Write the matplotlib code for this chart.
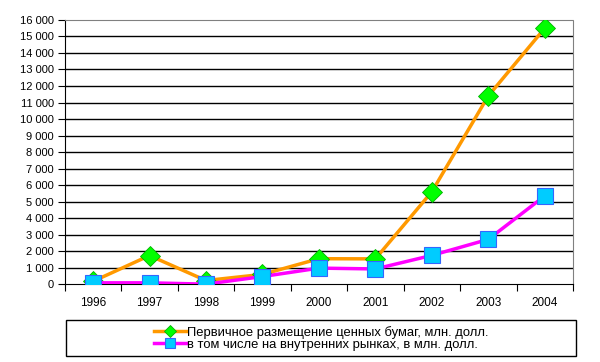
import numpy as np
import matplotlib
matplotlib.use("Agg")
import matplotlib.pyplot as plt
from matplotlib.ticker import FuncFormatter
from matplotlib.patches import Rectangle

plt.rcParams['font.family'] = ['Liberation Sans', 'DejaVu Sans']

years = ['1996', '1997', '1998', '1999', '2000', '2001', '2002', '2003', '2004']
# Первичное размещение ценных бумаг, млн. долл.
primary = [180, 1740, 230, 600, 1550, 1540, 5600, 11400, 15500]
# в том числе на внутренних рынках, в млн. долл.
domestic = [90, 90, 10, 470, 980, 930, 1750, 2720, 5350]

label_primary = 'Первичное размещение ценных бумаг, млн. долл.'
label_domestic = 'в том числе на внутренних рынках, в млн. долл.'

fig = plt.figure(figsize=(6, 3.62), dpi=100)
ax = fig.add_axes([0.108, 0.2146, 0.847, 0.7304])

x = np.arange(len(years))
ax.plot(x, primary, color='#FF9900', lw=2.5, marker='D', ms=10,
        mfc='#00FF00', mec='#00B000', mew=0.6, zorder=3)
ax.plot(x, domestic, color='#FF00FF', lw=2.5, marker='s', ms=11,
        mfc='#00CCFF', mec='#3366FF', mew=0.8, zorder=4)

ax.set_xlim(-0.5, len(years) - 0.5)
ax.set_ylim(0, 16000)
ax.set_yticks(np.arange(0, 16001, 1000))
ax.yaxis.set_major_formatter(FuncFormatter(lambda v, p: f'{int(v):,}'.replace(',', ' ')))
ax.set_xticks(x)
ax.set_xticklabels(years)
ax.set_xticks(np.arange(-0.5, len(years), 1), minor=True)
ax.tick_params(axis='x', which='major', length=0, pad=9, labelsize=8.5)
ax.tick_params(axis='x', which='minor', length=5, width=0.8, direction='out')
ax.tick_params(axis='y', length=5, width=0.8, direction='out', labelsize=8, pad=3)

for v in range(1000, 16000, 1000):
    ax.axhline(v, color='black', lw=1, zorder=1)

ax.spines['left'].set_color('black')
ax.spines['bottom'].set_color('black')
for s in ['top', 'right']:
    ax.spines[s].set_color('#808080')
    ax.spines[s].set_linestyle((0, (1, 1)))
    ax.spines[s].set_linewidth(0.8)

# legend box
fig.patches.append(Rectangle((0.11, 0.0166), 0.85, 0.0994, transform=fig.transFigure,
                             fill=False, edgecolor='black', lw=1))
leg = fig.legend(handles=ax.lines[:2], labels=[label_primary, label_domestic],
                 loc='center', bbox_to_anchor=(0.535, 0.066), frameon=False,
                 fontsize=9.4, handlelength=2.5, handletextpad=0.05,
                 labelspacing=0.0, markerscale=0.6, borderpad=0)

fig.savefig('out.png', dpi=100)
